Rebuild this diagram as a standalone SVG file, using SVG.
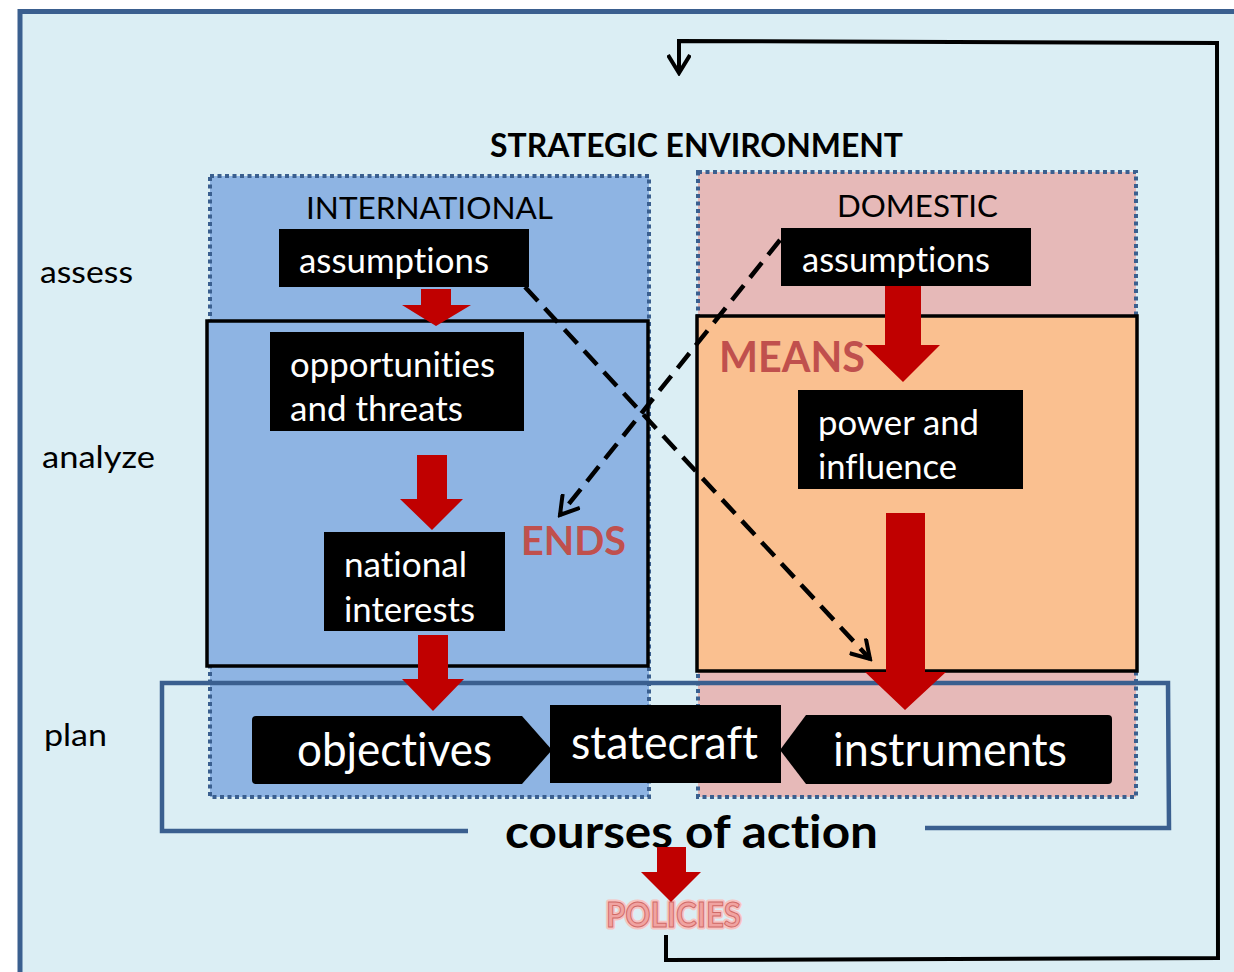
<svg xmlns="http://www.w3.org/2000/svg" width="1234" height="972" viewBox="0 0 1234 972">
<style>
text{font-variant-ligatures:none;font-feature-settings:"liga" 0,"clig" 0}
.t{font-family:Lato,"Liberation Sans",sans-serif}
.lab{font-family:Lato,"Liberation Sans",sans-serif;font-size:31px;fill:#000}
.wt{font-family:Lato,"Liberation Sans",sans-serif;font-size:35px;fill:#fff}
.big{font-family:Lato,"Liberation Sans",sans-serif;font-size:46px;fill:#fff}
.red{font-family:Lato,"Liberation Sans",sans-serif;font-weight:bold;fill:#C0504D}
.dot{stroke:#3A5F8F;stroke-width:4;stroke-dasharray:4 3.5}
.blk{fill:#000}
.ra{fill:#C00000}
.dash{fill:none;stroke:#000;stroke-width:4.5;stroke-dasharray:19 10}
</style>
<defs>
<marker id="open" viewBox="0 0 24 24" refX="21" refY="12" markerWidth="24" markerHeight="24" markerUnits="userSpaceOnUse" orient="auto">
<path d="M3,1 L21,12 L3,23" fill="none" stroke="#000" stroke-width="4" stroke-dasharray="none"/>
</marker>
</defs>
<g id="frame">
<rect x="20" y="11.5" width="1230" height="980" fill="#DBEEF4" stroke="#3A5F8F" stroke-width="5"/>
</g>
<g id="international">
<rect x="210" y="176" width="439" height="621" fill="#8EB4E3" class="dot"/>
<text class="lab" x="306" y="219" textLength="247" lengthAdjust="spacingAndGlyphs">INTERNATIONAL</text>
</g>
<g id="domestic">
<rect x="698" y="172" width="438" height="625" fill="#E6B9B8" class="dot"/>
<text class="lab" x="837" y="217" textLength="161" lengthAdjust="spacingAndGlyphs">DOMESTIC</text>
</g>
<g id="ends-box">
<rect x="207" y="321" width="441" height="345" fill="#8EB4E3" stroke="#000" stroke-width="3.5"/>
<text class="red" x="521" y="555" font-size="40" textLength="105" lengthAdjust="spacingAndGlyphs">ENDS</text>
</g>
<g id="means-box">
<rect x="697" y="316" width="440" height="355" fill="#FAC090" stroke="#000" stroke-width="3.5"/>
<text class="red" x="719" y="372" font-size="42" textLength="146" lengthAdjust="spacingAndGlyphs">MEANS</text>
</g>
<g id="courses-of-action">
<path d="M468 831 L162 831 L162 683 L1168 683 L1169 828 L925 828" fill="none" stroke="#3A5F8F" stroke-width="4.5"/>
<text class="t" x="505" y="848" font-size="45" font-weight="bold" fill="#000" textLength="373" lengthAdjust="spacingAndGlyphs">courses of action</text>
</g>
<g id="title">
<text class="t" x="490" y="157" font-size="33" font-weight="bold" fill="#000" textLength="413" lengthAdjust="spacingAndGlyphs">STRATEGIC ENVIRONMENT</text>
</g>
<g id="row-labels">
<text class="lab" x="40" y="283" textLength="93" lengthAdjust="spacingAndGlyphs">assess</text>
<text class="lab" x="42" y="468" textLength="113" lengthAdjust="spacingAndGlyphs">analyze</text>
<text class="lab" x="44" y="746" textLength="63" lengthAdjust="spacingAndGlyphs">plan</text>
</g>
<g id="assumptions-int">
<rect class="blk" x="279" y="229" width="250" height="58"/>
<text class="wt" x="299" y="273" textLength="190" lengthAdjust="spacingAndGlyphs">assumptions</text>
</g>
<g id="assumptions-dom">
<rect class="blk" x="781" y="228" width="250" height="58"/>
<text class="wt" x="802" y="272" textLength="188" lengthAdjust="spacingAndGlyphs">assumptions</text>
</g>
<g id="opportunities">
<rect class="blk" x="270" y="332" width="254" height="99"/>
<text class="wt" x="290" y="377" textLength="205" lengthAdjust="spacingAndGlyphs">opportunities</text>
<text class="wt" x="290" y="421" textLength="173" lengthAdjust="spacingAndGlyphs">and threats</text>
</g>
<g id="national-interests">
<rect class="blk" x="324" y="532" width="181" height="99"/>
<text class="wt" x="344" y="577" textLength="123" lengthAdjust="spacingAndGlyphs">national</text>
<text class="wt" x="344" y="622" textLength="131" lengthAdjust="spacingAndGlyphs">interests</text>
</g>
<g id="power-influence">
<rect class="blk" x="798" y="390" width="225" height="99"/>
<text class="wt" x="818" y="435" textLength="161" lengthAdjust="spacingAndGlyphs">power and</text>
<text class="wt" x="818" y="479" textLength="139" lengthAdjust="spacingAndGlyphs">influence</text>
</g>
<g id="objectives">
<path class="blk" d="M256 716 H522 L552 750 L522 784 H256 Q252 784 252 780 V720 Q252 716 256 716 Z"/>
<text class="big" x="297" y="766" textLength="195" lengthAdjust="spacingAndGlyphs">objectives</text>
</g>
<g id="instruments">
<path class="blk" d="M806 715 H1108 Q1112 715 1112 719 V780 Q1112 784 1108 784 H806 L780 750 Z"/>
<text class="big" x="833" y="766" textLength="234" lengthAdjust="spacingAndGlyphs">instruments</text>
</g>
<g id="statecraft">
<rect class="blk" x="550" y="705" width="231" height="78"/>
<text class="big" x="571" y="759" textLength="187" lengthAdjust="spacingAndGlyphs">statecraft</text>
</g>
<g id="policies">
<text class="t" x="606" y="927" font-size="34" font-weight="bold" fill="none" stroke="#F7C3C1" stroke-width="5" stroke-linejoin="round" textLength="135" lengthAdjust="spacingAndGlyphs">POLICIES</text>
<text class="t" x="606" y="927" font-size="34" font-weight="bold" fill="#F0A3A1" stroke="#D06A67" stroke-width="1" textLength="135" lengthAdjust="spacingAndGlyphs">POLICIES</text>
</g>
<g id="connectors">
<path class="ra" d="M421 289 H451 V305 H471 L436 326 L402 305 H421 Z"/>
<path class="ra" d="M885 286 H921 V345 H940 L903 382 L865 345 H885 Z"/>
<path class="ra" d="M417 455 H447 V499 H463 L432 530 L400 499 H417 Z"/>
<path class="ra" d="M418 635 H448 V679 H464 L433 711 L402 679 H418 Z"/>
<path class="ra" d="M886 513 H925 V672 H946 L905 710 L865 672 H886 Z"/>
<path class="ra" d="M657 847 H686 V872 H701 L671 902 L641 872 H657 Z"/>
<path class="dash" d="M525 287 L870 659" marker-end="url(#open)"/>
<path class="dash" d="M780 240 L560 515" marker-end="url(#open)"/>
<path d="M666 935 L666 960 L1218 958 L1217 43 L679 41 L679 73" fill="none" stroke="#000" stroke-width="4" marker-end="url(#open)"/>
</g>
</svg>
